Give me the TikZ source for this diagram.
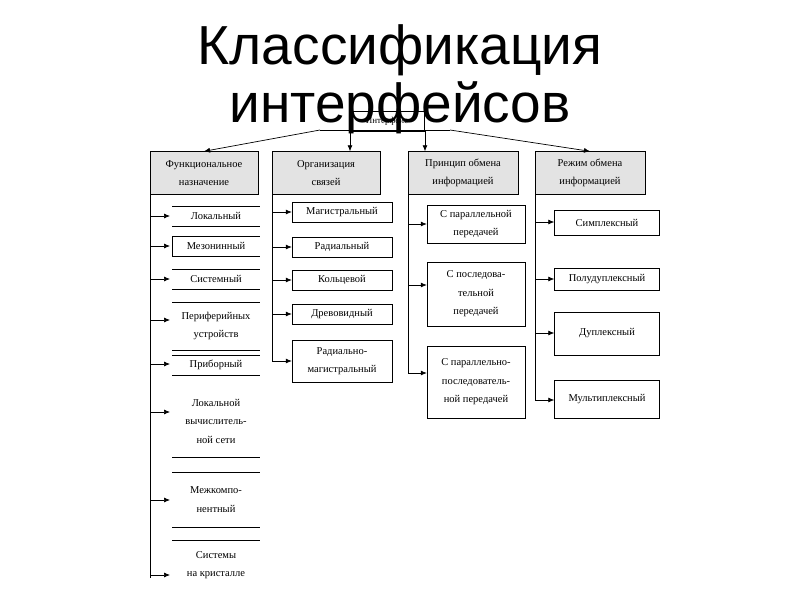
\documentclass[tikz,border=0pt]{standalone}
\usepackage{fontspec}
\setmainfont{Liberation Serif}
\newfontfamily\titlefont{Liberation Sans}
\usetikzlibrary{arrows.meta}
\begin{document}
\begin{tikzpicture}[x=1pt,y=-1pt,
  lbl/.style={font=\fontsize{10.5}{18.5}\selectfont,align=center,inner sep=0pt},
  head/.style={draw,fill=gray!22,font=\fontsize{10.5}{18.5}\selectfont,align=center,inner sep=0pt},
  itembox/.style={draw,font=\fontsize{10.5}{18.5}\selectfont,align=center,inner sep=0pt},
  arr/.style={-{Latex[length=6pt,width=5pt]},line width=0.7pt},
  ln/.style={line width=0.7pt}]
\useasboundingbox (0,0) rectangle (800,600);
% root
\node[draw,minimum width=75pt,minimum height=20pt,inner sep=0pt,font=\fontsize{9}{10}\selectfont] (root) at (387,121) {Интерфейс};
\node[font=\titlefont\fontsize{55}{58}\selectfont,align=center] (title) at (400,79) {Классификация\\интерфейсов};
\coordinate (bl) at (320,130); \coordinate (br) at (450,130);
\draw[ln] (bl) -- (br);
% headers
\node[head,minimum width=108pt,minimum height=43pt] (h1) at (204,173) {Функциональное\\назначение};
\node[head,minimum width=108pt,minimum height=43pt] (h2) at (326,173) {Организация\\связей};
\node[head,minimum width=110pt,minimum height=43pt] (h3) at (463,173) {Принцип обмена\\информацией};
\node[head,minimum width=110pt,minimum height=43pt] (h4) at (590,173) {Режим обмена\\информацией};
\draw[arr] (bl) -- (h1.north);
\coordinate (t2) at (350,130); \coordinate (t3) at (425,130);
\draw[arr] (t2) -- (t2 |- h2.north);
\draw[arr] (t3) -- (t3 |- h3.north);
\draw[arr] (br) -- (h4.north);
% column 1
\coordinate (c1t) at (150,195); \coordinate (c1b) at (150,578);
\draw[ln] (c1t) -- (c1b);
\foreach \n/\yt/\yb/\ya/\txt in {a/206/226/216/{Локальный},b/236/256/246/{Мезонинный},c/269/289/279/{Системный},d/302/350/320/{Периферийных\\устройств},e/355/375/364/{Приборный},f/385/457/412/{Локальной\\вычислитель-\\ной сети},g/472/527/500/{Межкомпо-\\нентный},h/540/590/575/{Системы\\на кристалле}}{
  \node[lbl] (f\n) at (216,{(\yt+\yb)/2}) {\txt};
  \coordinate (f\n tl) at (172,\yt); \coordinate (f\n tr) at (260,\yt);
  \coordinate (f\n bl) at (172,\yb); \coordinate (f\n br) at (260,\yb);
  \coordinate (f\n a) at (150,\ya); \coordinate (f\n e) at (170,\ya);
  \draw[arr] (f\n a) -- (f\n e);
}
\foreach \n in {a,b,c,d,e,g}{\draw[ln] (f\n tl) -- (f\n tr); \draw[ln] (f\n bl) -- (f\n br);}
\draw[ln] (ffbl) -- (ffbr);
\draw[ln] (fhtl) -- (fhtr);
\draw[ln] (fbtl) -- (fbbl);
% column 2
\coordinate (c2t) at (272,195); \coordinate (c2b) at (272,361);
\draw[ln] (c2t) -- (c2b);
\foreach \n/\yt/\yb/\txt in {a/202/222/{Магистральный},b/237/257/{Радиальный},c/270/290/{Кольцевой},d/304/324/{Древовидный},e/340/382/{Радиально-\\магистральный}}{
  \node[itembox,minimum width=100pt,minimum height={\yb-\yt}] (o\n) at (342,{(\yt+\yb)/2}) {\txt};
  \draw[arr] (o\n.west -| c2t) -- (o\n.west);
}
% column 3
\coordinate (c3t) at (408,195); \coordinate (c3b) at (408,373);
\draw[ln] (c3t) -- (c3b);
\foreach \n/\yt/\yb/\txt in {a/205/243/{С параллельной\\передачей},b/262/326/{С последова-\\тельной\\передачей},c/346/418/{С параллельно-\\последователь-\\ной передачей}}{
  \node[itembox,minimum width=98pt,minimum height={\yb-\yt}] (p\n) at (476,{(\yt+\yb)/2}) {\txt};
}
\draw[arr] (408,224) -- (pa.west |- 0,224);
\draw[arr] (408,285) -- (pb.west |- 0,285);
\draw[arr] (408,373) -- (pc.west |- 0,373);
% column 4
\coordinate (c4t) at (535,195); \coordinate (c4b) at (535,400);
\draw[ln] (c4t) -- (c4b);
\foreach \n/\yt/\yb/\txt in {a/210/235/{Симплексный},b/268/290/{Полудуплексный},c/312/355/{Дуплексный},d/380/418/{Мультиплексный}}{
  \node[itembox,minimum width=105pt,minimum height={\yb-\yt}] (r\n) at (607,{(\yt+\yb)/2}) {\txt};
}
\draw[arr] (535,222) -- (ra.west |- 0,222);
\draw[arr] (535,279) -- (rb.west |- 0,279);
\draw[arr] (535,333) -- (rc.west |- 0,333);
\draw[arr] (535,400) -- (rd.west |- 0,400);
\end{tikzpicture}
\end{document}
